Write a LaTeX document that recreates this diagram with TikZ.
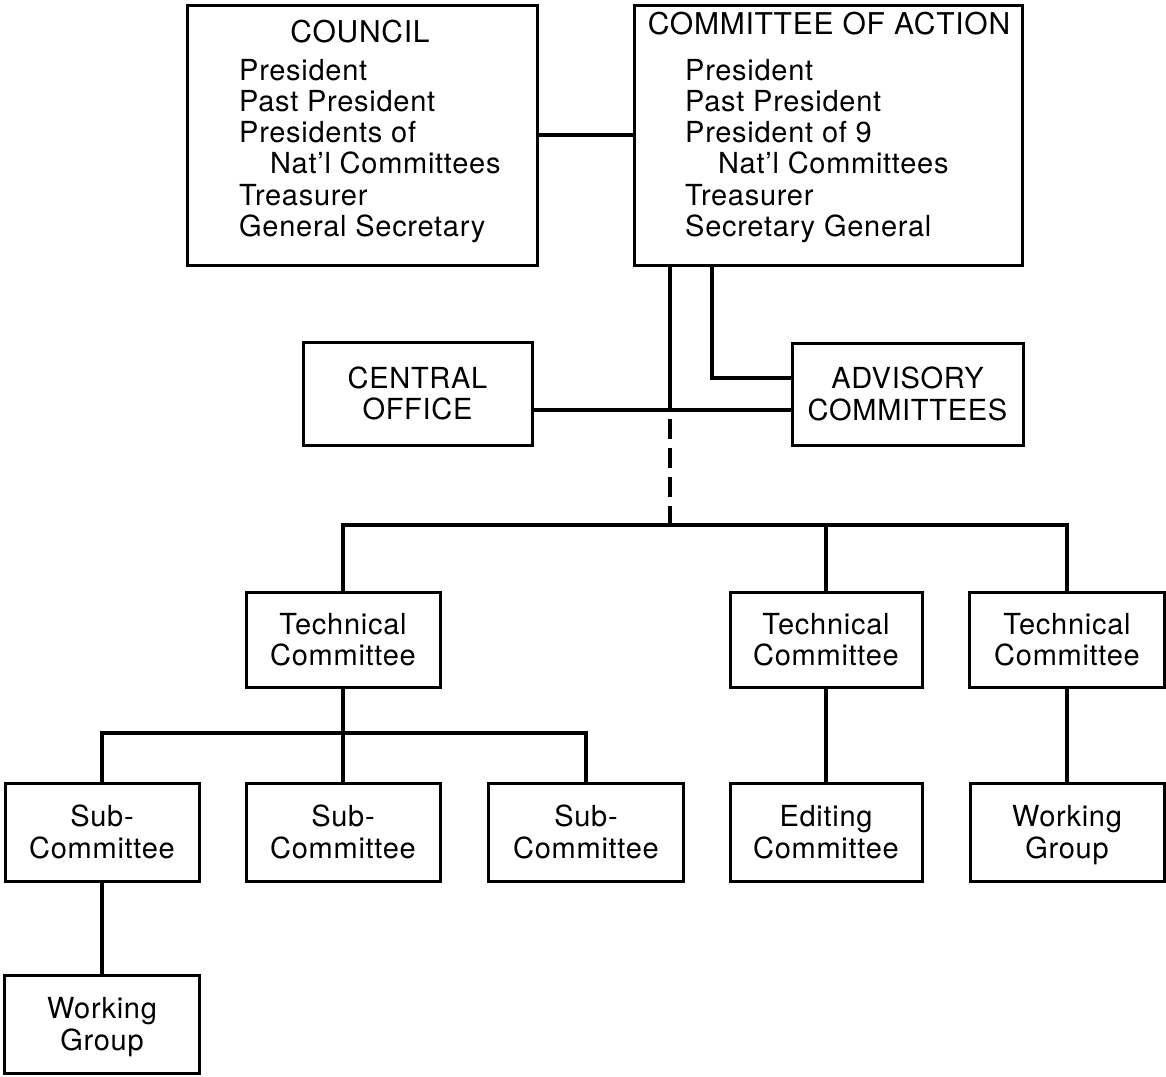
\documentclass[tikz,border=0pt]{standalone}
\usepackage{fontspec}
\setmainfont{TeX Gyre Heros}[LetterSpace=2.5]
\newcommand\chartfont{\fontsize{29}{31.5}\selectfont}
\newcommand\titlefont{\fontsize{30}{32}\selectfont}
\begin{document}
\begin{tikzpicture}[x=1pt,y=-1pt,
  box/.style={draw, line width=3pt, rectangle, inner sep=0pt, align=center, font=\chartfont},
  lbl/.style={inner sep=0pt, font=\chartfont},
  conn/.style={line width=4pt},
  dashconn/.style={conn, dash pattern=on 20pt off 9pt, dash phase=20pt}]
% page
\fill[white] (0,0) rectangle (1166,1076);
\useasboundingbox (0,0) rectangle (1166,1076);

% top level bodies
\node[box, minimum width=350pt, minimum height=260pt] (council) at (362,135) {};
\node[lbl, anchor=base, font=\titlefont] (counciltitle) at (360,42) {COUNCIL};
\node[lbl, anchor=base west] (cpres) at (239,80) {President};
\node[lbl, anchor=base west] (cpast) at (239,111.3) {Past President};
\node[lbl, anchor=base west] (cnat) at (239,142.6) {Presidents of};
\node[lbl, anchor=base west] (cnat2) at (270,173.9) {Nat'l Committees};
\node[lbl, anchor=base west] (ctreas) at (239,205.2) {Treasurer};
\node[lbl, anchor=base west] (csec) at (239,236.5) {General Secretary};

\node[box, minimum width=388pt, minimum height=260pt] (coa) at (828,135) {};
\node[lbl, anchor=base, font=\titlefont] (coatitle) at (829,34) {COMMITTEE OF ACTION};
\node[lbl, anchor=base west] (apres) at (685,80) {President};
\node[lbl, anchor=base west] (apast) at (685,111.3) {Past President};
\node[lbl, anchor=base west] (anat) at (685,142.6) {President of 9};
\node[lbl, anchor=base west] (anat2) at (718,173.9) {Nat'l Committees};
\node[lbl, anchor=base west] (atreas) at (685,205.2) {Treasurer};
\node[lbl, anchor=base west] (asec) at (685,236.5) {Secretary General};

% offices
\node[box, minimum width=229pt, minimum height=103pt] (central) at (417.5,393.5) {CENTRAL\\OFFICE};
\node[box, minimum width=231pt, minimum height=102pt] (advisory) at (907.5,394) {ADVISORY\\COMMITTEES};

% technical committees
\node[box, minimum width=194pt, minimum height=95pt] (tech1) at (343,639.5) {Technical\\Committee};
\node[box, minimum width=192pt, minimum height=95pt] (tech2) at (826,639.5) {Technical\\Committee};
\node[box, minimum width=195pt, minimum height=95pt] (tech3) at (1067,639.5) {Technical\\Committee};

% lower bodies
\node[box, minimum width=194pt, minimum height=98pt] (sub1) at (102,832) {Sub-\\Committee};
\node[box, minimum width=194pt, minimum height=98pt] (sub2) at (343,832) {Sub-\\Committee};
\node[box, minimum width=195pt, minimum height=98pt] (sub3) at (586,832) {Sub-\\Committee};
\node[box, minimum width=192pt, minimum height=98pt] (edit) at (826,832) {Editing\\Committee};
\node[box, minimum width=194pt, minimum height=98pt] (wg2) at (1067,832) {Working\\\smash{Group}};
\node[box, minimum width=195pt, minimum height=98pt] (wg1) at (102,1024) {Working\\\smash{Group}};

% junction points
\coordinate (hub) at (670,410);
\coordinate (advtap) at (712,378);
\coordinate (bus) at (670,525);
\coordinate (sbus) at (343,733);

% connectors
\draw[conn] (council.east) -- (coa.west);
\draw[conn] (coa.south -| hub) -- (hub);
\draw[conn] (coa.south -| advtap) |- (advisory.west |- advtap);
\draw[conn] (central.east |- hub) -- (advisory.west |- hub);
\draw[dashconn] (hub) -- (bus);
\draw[conn] (tech1.north) |- (bus) -| (tech3.north);
\draw[conn] (tech2.north |- bus) -- (tech2.north);
\draw[conn] (tech1.south) -- (sub2.north);
\draw[conn] (sub1.north) |- (sbus) -| (sub3.north);
\draw[conn] (tech2.south) -- (edit.north);
\draw[conn] (tech3.south) -- (wg2.north);
\draw[conn] (sub1.south) -- (wg1.north);
\end{tikzpicture}
\end{document}
